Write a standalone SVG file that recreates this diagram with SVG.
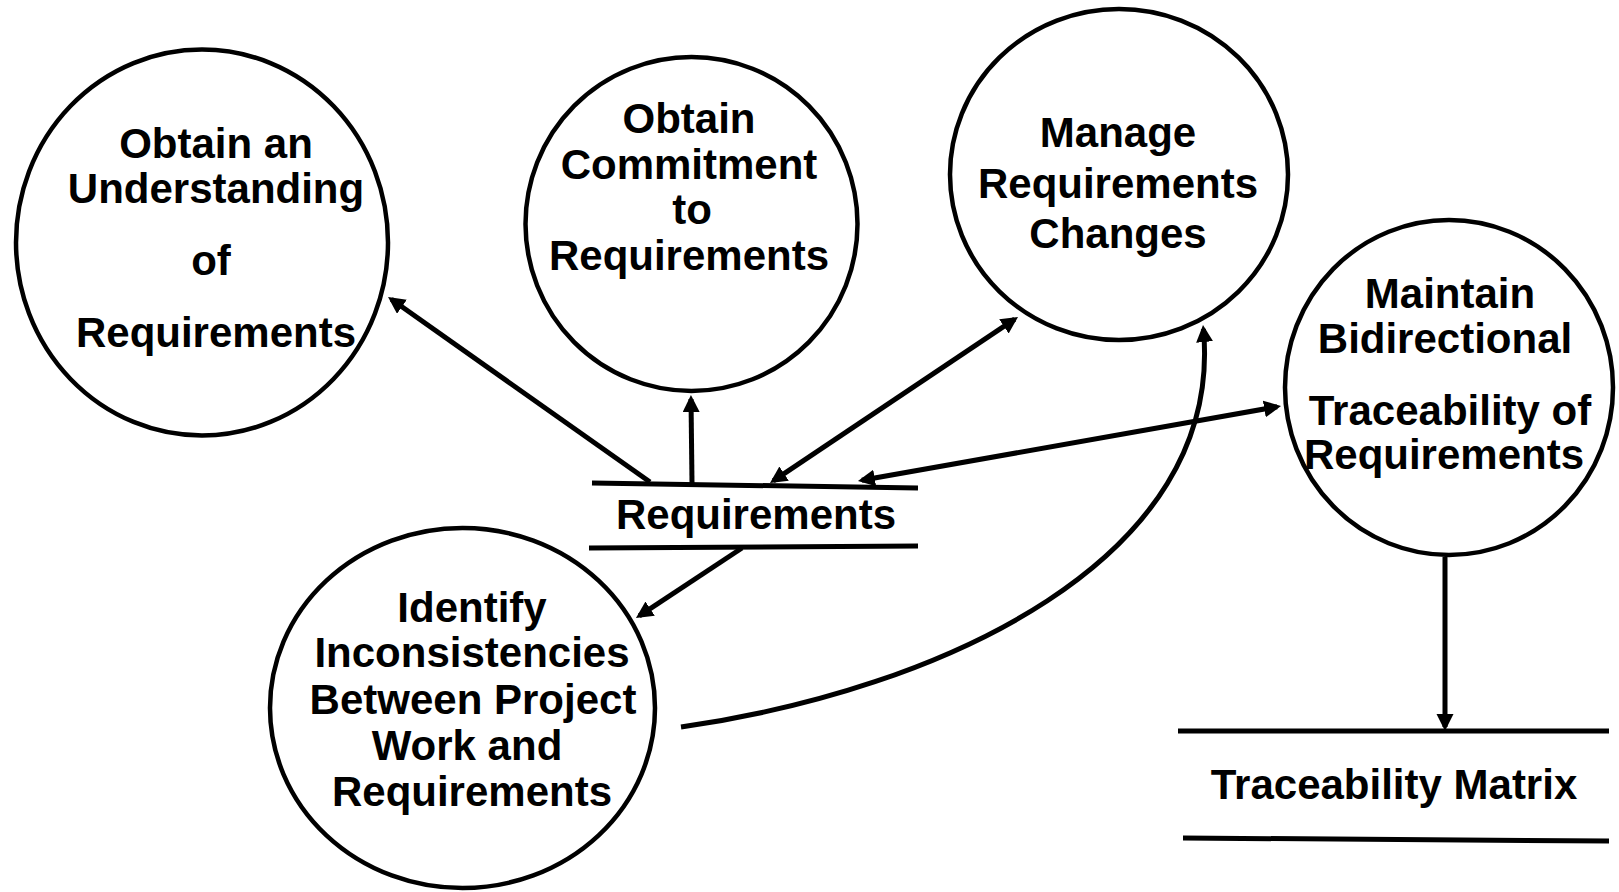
<svg xmlns="http://www.w3.org/2000/svg" width="1619" height="892" viewBox="0 0 1619 892">
<style>
.node ellipse{fill:#fff;stroke:#000;stroke-width:4.5}
.store line{stroke:#000;stroke-width:5}
text{font-family:"Liberation Sans",Arial,sans-serif;font-weight:bold;font-size:42px;fill:#000;text-anchor:middle}
#connectors path,#connectors line{stroke:#000;stroke-width:5;fill:none}
</style>
<defs>
<marker id="ah" markerUnits="userSpaceOnUse" markerWidth="18" markerHeight="18" refX="13" refY="8.5" orient="auto-start-reverse" viewBox="0 0 18 18">
<path d="M0,0 L17,8.5 L0,17 z" fill="#000"/>
</marker>
</defs>
<rect width="1619" height="892" fill="#fff"/>
<g id="connectors">
<line x1="650" y1="482" x2="391.3" y2="299.3" marker-end="url(#ah)"/>
<line x1="692" y1="483" x2="691" y2="399" marker-end="url(#ah)"/>
<line x1="773.3" y1="480.8" x2="1014.7" y2="319.2" marker-start="url(#ah)" marker-end="url(#ah)"/>
<line x1="861.9" y1="480.3" x2="1277.1" y2="406.7" marker-start="url(#ah)" marker-end="url(#ah)"/>
<line x1="742" y1="548" x2="639.3" y2="615.8" marker-end="url(#ah)"/>
<path d="M681,727 C940,690 1225,560 1203.4,329" marker-end="url(#ah)"/>
<line x1="1445" y1="557" x2="1445" y2="727" marker-end="url(#ah)"/>
</g>
<g id="node-understanding" class="node">
<ellipse cx="202" cy="242.5" rx="186" ry="193"/>
<text x="216" y="158">Obtain an</text>
<text x="216" y="203">Understanding</text>
<text x="211" y="275">of</text>
<text x="216" y="347">Requirements</text>
</g>
<g id="node-commitment" class="node">
<ellipse cx="691.5" cy="224" rx="166" ry="167"/>
<text x="689" y="133">Obtain</text>
<text x="689" y="179">Commitment</text>
<text x="692" y="224">to</text>
<text x="689" y="270">Requirements</text>
</g>
<g id="node-changes" class="node">
<ellipse cx="1119" cy="174.5" rx="169" ry="165.5"/>
<text x="1118" y="147">Manage</text>
<text x="1118" y="198">Requirements</text>
<text x="1118" y="248">Changes</text>
</g>
<g id="node-traceability" class="node">
<ellipse cx="1449" cy="387.5" rx="164" ry="167.5"/>
<text x="1450" y="308">Maintain</text>
<text x="1445" y="353">Bidirectional</text>
<text x="1450" y="425">Traceability of</text>
<text x="1444" y="469">Requirements</text>
</g>
<g id="node-inconsistencies" class="node">
<ellipse cx="462.5" cy="708" rx="192.5" ry="180"/>
<text x="472" y="622">Identify</text>
<text x="472" y="667">Inconsistencies</text>
<text x="473" y="714">Between Project</text>
<text x="467" y="760">Work and</text>
<text x="472" y="806">Requirements</text>
</g>
<g id="store-requirements" class="store">
<line x1="592" y1="483" x2="918" y2="488"/>
<line x1="589" y1="548" x2="918" y2="546"/>
<text x="756" y="529">Requirements</text>
</g>
<g id="store-matrix" class="store">
<line x1="1178" y1="731" x2="1609" y2="731"/>
<line x1="1183" y1="838" x2="1609" y2="841"/>
<text x="1394" y="799">Traceability Matrix</text>
</g>
</svg>
